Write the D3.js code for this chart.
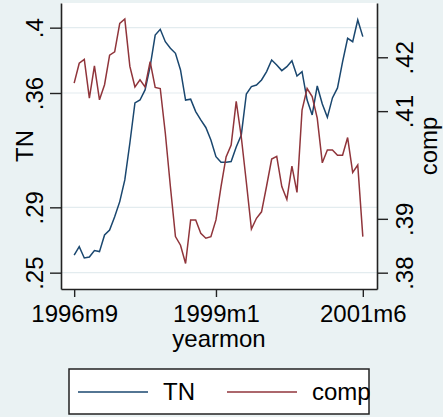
<html>
    <head>
        <script src="https://d3js.org/d3.v7.min.js" charset="utf-8"></script>
        <style>
            body { margin: 0; background: #eaf2f3; }
            text { font-family: "Liberation Sans", Arial, sans-serif; fill: #000; }
        </style>
    </head>

    <body>
    </body>

    <script>
        // Monthly series, 1996m9 .. 2001m6
        var startYear = 1996;
        var startMonth = 9;

        var tnValues = [.2608, .2659, .2590, .2596, .2635, .2629, .2731, .2761, .2843, .2935,
                        .3068, .3294, .3539, .3557, .3619, .3761, .3955, .3990, .3914, .3874,
                        .3843, .3741, .3557, .3562, .3486, .3435, .3389, .3312, .3210, .3176,
                        .3176, .3180, .3270, .3343, .3594, .3639, .3649, .3680, .3731, .3802,
                        .3772, .3737, .3761, .3798, .3704, .3731, .3557, .3466, .3643, .3533,
                        .3451, .3570, .3631, .3790, .3935, .3914, .4047, .3945];

        var compValues = [.4152, .4189, .4196, .4124, .4184, .4121, .4149, .4204, .4210, .4263,
                          .4271, .4183, .4145, .4158, .4145, .4192, .4144, .4142, .4059, .3960,
                          .3867, .3851, .3817, .3898, .3898, .3873, .3864, .3867, .3898, .3960,
                          .4015, .4037, .4118, .4052, .3968, .3881, .3901, .3913, .3961, .4011,
                          .4016, .3960, .3936, .3998, .3949, .4102, .4142, .4127, .4087, .4004,
                          .4028, .4028, .4018, .4018, .4051, .3986, .4000, .3867];

        var xTickLabels = ["1996m9", "1999m1", "2001m6"];
        var tnTicks = [.25, .29, .36, .4];
        var compTicks = [.38, .39, .41, .42];

        var seriesNames = ["TN", "comp"];
        var seriesColors = ["#1a476f", "#90353b"];

        var chartWidth = 443;
        var chartHeight = 417;

        // plot region (note: "top" is taken by window.top, so prefix these)
        var plotLeft = 61, plotRight = 377, plotTop = 3, plotBottom = 289;

        var svg = d3.select("body").append("svg")
            .attr("width", chartWidth)
            .attr("height", chartHeight);

        svg.append("rect")
            .attr("width", chartWidth)
            .attr("height", chartHeight)
            .attr("fill", "#eaf2f3");

        svg.append("rect")
            .attr("x", plotLeft)
            .attr("y", plotTop)
            .attr("width", plotRight - plotLeft)
            .attr("height", plotBottom - plotTop)
            .attr("fill", "#ffffff");

        // month index from a "1999m1" style label
        function monthIndex(label) {
            var parts = label.split("m");
            return (+parts[0] - startYear) * 12 + (+parts[1] - startMonth);
        }

        // Stata style: .25 not 0.25
        function stataFormat(v) {
            return String(v).replace(/^0\./, ".");
        }

        var x = d3.scaleLinear().domain([-2.6, 59.8]).range([plotLeft, plotRight]);
        var yTN = d3.scaleLinear().domain([.24, .4151]).range([plotBottom, plotTop]);
        var yComp = d3.scaleLinear().domain([.37697, .43008]).range([plotBottom, plotTop]);

        // gridlines follow the left axis
        svg.selectAll(".grid")
            .data(tnTicks)
            .enter().append("line")
            .attr("x1", plotLeft)
            .attr("x2", plotRight)
            .attr("y1", function(d) { return yTN(d); })
            .attr("y2", function(d) { return yTN(d); })
            .attr("stroke", "#e3ecef")
            .attr("stroke-width", 1.2);

        // the two lines
        var tnLine = d3.line()
            .x(function(d, i) { return x(i); })
            .y(function(d) { return yTN(d); });

        var compLine = d3.line()
            .x(function(d, i) { return x(i); })
            .y(function(d) { return yComp(d); });

        svg.append("path")
            .attr("d", tnLine(tnValues))
            .attr("fill", "none")
            .attr("stroke", seriesColors[0])
            .attr("stroke-width", 1.5);

        svg.append("path")
            .attr("d", compLine(compValues))
            .attr("fill", "none")
            .attr("stroke", seriesColors[1])
            .attr("stroke-width", 1.5);

        // axes
        var leftAxis = svg.append("g")
            .attr("transform", "translate(" + plotLeft + ",0)")
            .call(d3.axisLeft(yTN).tickValues(tnTicks).tickFormat(stataFormat).tickSize(11).tickSizeOuter(0));

        var rightAxis = svg.append("g")
            .attr("transform", "translate(" + plotRight + ",0)")
            .call(d3.axisRight(yComp).tickValues(compTicks).tickFormat(stataFormat).tickSize(11).tickSizeOuter(0));

        var bottomAxis = svg.append("g")
            .attr("transform", "translate(0," + plotBottom + ")")
            .call(d3.axisBottom(x).tickValues(xTickLabels.map(monthIndex))
                .tickFormat(function(d, i) { return xTickLabels[i]; })
                .tickSize(8).tickSizeOuter(0));

        [leftAxis, rightAxis, bottomAxis].forEach(function(a) {
            a.select(".domain").attr("stroke", "#222").attr("stroke-width", 1.6);
            a.selectAll(".tick line").attr("stroke", "#222").attr("stroke-width", 1.4);
            a.selectAll("text").style("font-size", "24px").attr("fill", "#000");
        });

        // rotated tick labels, reading bottom to top
        leftAxis.selectAll(".tick text")
            .attr("transform", "rotate(-90)")
            .attr("x", 0).attr("y", -18).attr("dy", 0)
            .style("text-anchor", "middle");

        rightAxis.selectAll(".tick text")
            .attr("transform", "rotate(-90)")
            .attr("x", 0).attr("y", 36).attr("dy", 0)
            .style("text-anchor", "middle");

        bottomAxis.selectAll(".tick text")
            .attr("y", 33).attr("dy", 0);

        // axis titles
        svg.append("text")
            .attr("transform", "translate(33," + ((plotTop + plotBottom) / 2) + ") rotate(-90)")
            .attr("text-anchor", "middle")
            .style("font-size", "24px")
            .text("TN");

        svg.append("text")
            .attr("transform", "translate(437," + ((plotTop + plotBottom) / 2) + ") rotate(-90)")
            .attr("text-anchor", "middle")
            .style("font-size", "24px")
            .text("comp");

        svg.append("text")
            .attr("x", (plotLeft + plotRight) / 2)
            .attr("y", 347)
            .attr("text-anchor", "middle")
            .style("font-size", "24px")
            .text("yearmon");

        // legend
        svg.append("rect")
            .attr("x", 69)
            .attr("y", 369)
            .attr("width", 300)
            .attr("height", 45)
            .attr("fill", "#ffffff")
            .attr("stroke", "#222")
            .attr("stroke-width", 1.5);

        var legendLineX = [78, 227];
        var legendTextX = [163, 312];
        seriesNames.forEach(function(name, i) {
            svg.append("line")
                .attr("x1", legendLineX[i])
                .attr("x2", legendLineX[i] + 70)
                .attr("y1", 392)
                .attr("y2", 392)
                .attr("stroke", seriesColors[i])
                .attr("stroke-width", 1.5);
            svg.append("text")
                .attr("x", legendTextX[i])
                .attr("y", 400)
                .style("font-size", "24px")
                .text(name);
        });
    </script>
</html>
